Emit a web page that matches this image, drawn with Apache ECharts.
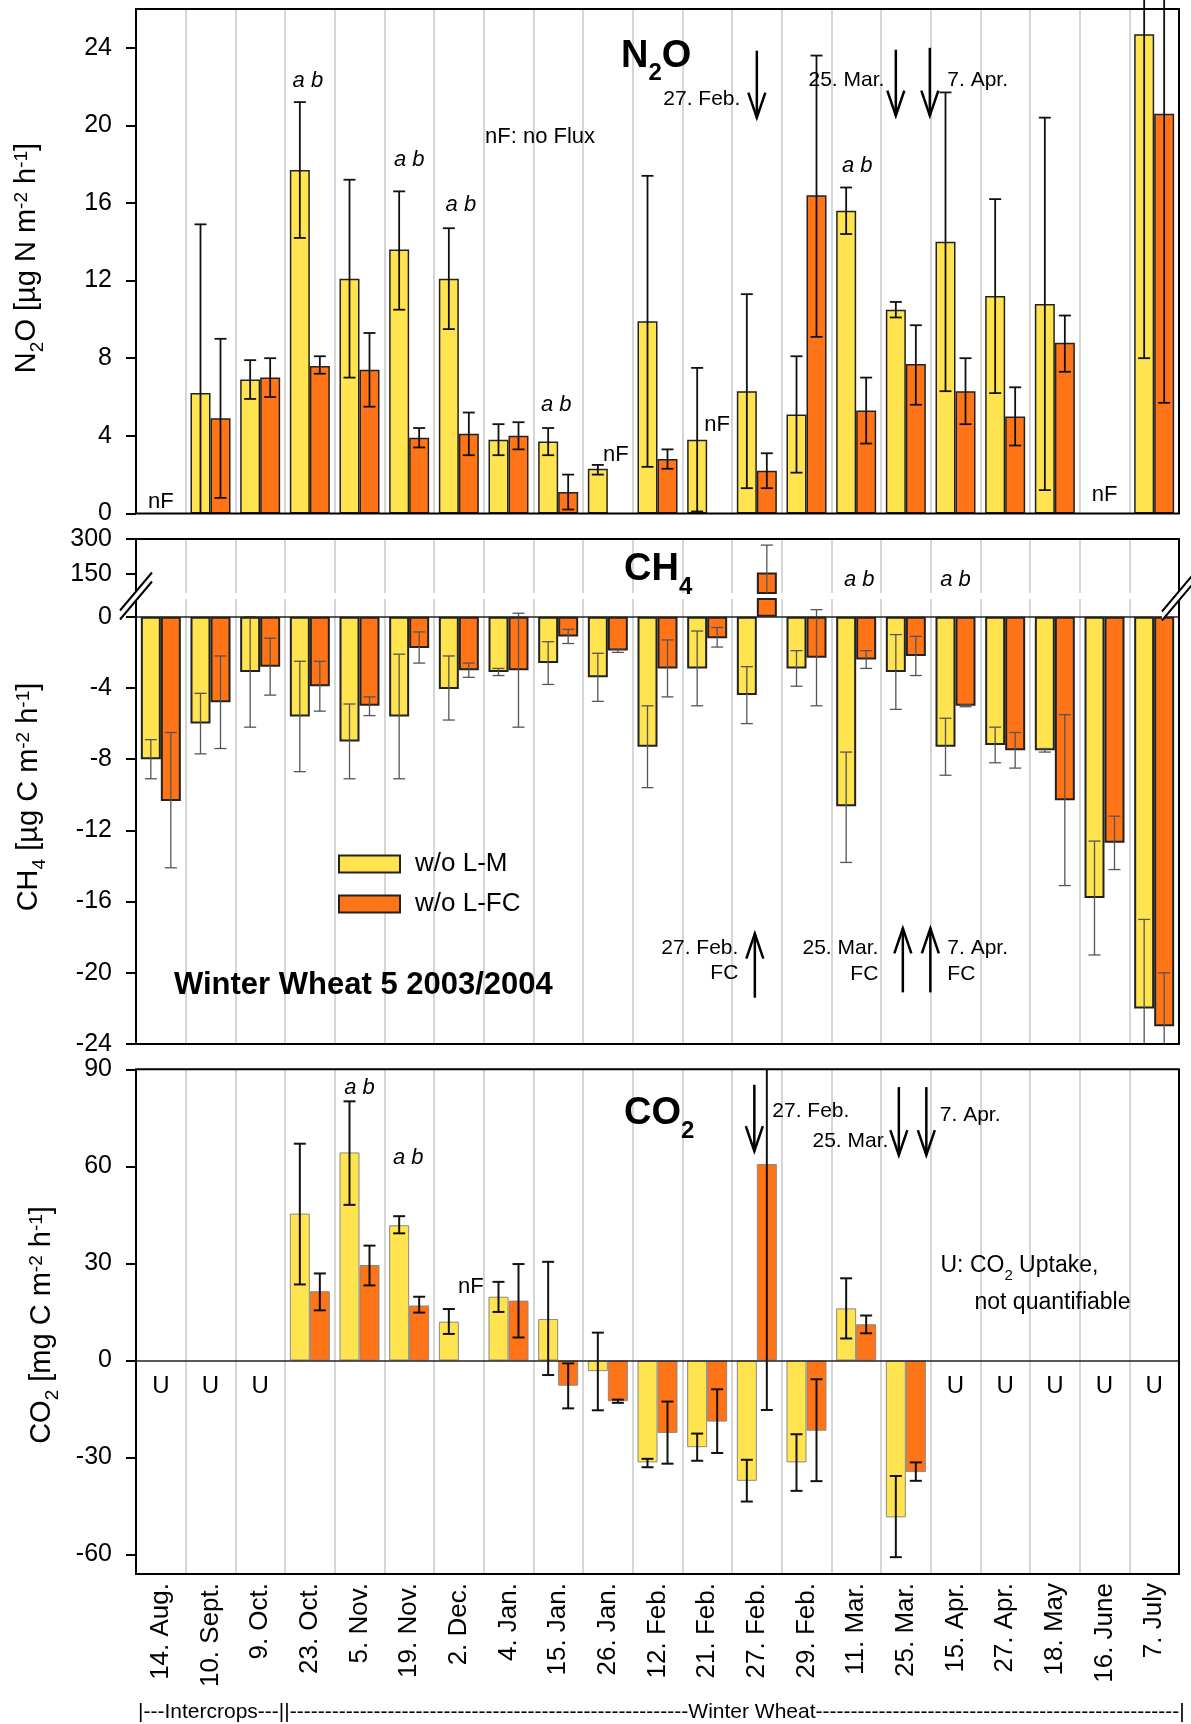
<!DOCTYPE html>
<html><head><meta charset="utf-8">
<script src="https://cdn.jsdelivr.net/npm/echarts@6/dist/echarts.min.js"></script>
<style>html,body{margin:0;padding:0;background:#fff}#c{width:1191px;height:1724px}</style>
</head><body><div id="c"></div>
<script>
// ---------------- data ----------------
const categories = ['14. Aug.', '10. Sept.', '9. Oct.', '23. Oct.', '5. Nov.', '19. Nov.', '2. Dec.', '4. Jan.', '15. Jan.', '26. Jan.', '12. Feb.', '21. Feb.', '27. Feb.', '29. Feb.', '11. Mar.', '25. Mar.', '15. Apr.', '27. Apr.', '18. May', '16. June', '7. July'];

// N2O [µg N m-2 h-1]
const n2oLM   = [null, 6.2, 6.9, 17.7, 12.1, 13.6, 12.1, 3.8, 3.7, 2.3, 9.9, 3.8, 6.3, 5.1, 15.6, 10.5, 14.0, 11.2, 10.8, null, 24.7];
const n2oLMhi = [null, 14.9, 7.9, 21.2, 17.2, 16.6, 14.7, 4.6, 4.4, 2.5, 17.4, 7.5, 11.3, 8.1, 16.8, 10.9, 21.7, 16.2, 20.4, null, 41.3];
const n2oLMlo = [null, -2.5, 5.9, 14.2, 7.0, 10.5, 9.5, 3.0, 3.0, 2.0, 2.4, 0.1, 1.3, 2.1, 14.4, 10.1, 6.3, 6.2, 1.2, null, 8.0];
const n2oFC   = [null, 4.9, 7.0, 7.6, 7.4, 3.9, 4.1, 4.0, 1.1, null, 2.8, null, 2.2, 16.4, 5.3, 7.7, 6.3, 5.0, 8.8, null, 20.6];
const n2oFChi = [null, 9.0, 8.0, 8.1, 9.3, 4.4, 5.2, 4.7, 2.0, null, 3.3, null, 3.1, 23.6, 7.0, 9.7, 8.0, 6.5, 10.2, null, 35.5];
const n2oFClo = [null, 0.8, 6.0, 7.2, 5.5, 3.4, 3.0, 3.3, 0.2, null, 2.3, null, 1.3, 9.1, 3.6, 5.6, 4.6, 3.5, 7.3, null, 5.7];

// CH4 [µg C m-2 h-1]
const ch4LM   = [-8.0, -6.0, -3.1, -5.6, -7.0, -5.6, -4.05, -3.1, -2.6, -3.4, -7.3, -2.9, -4.4, -2.9, -10.65, -3.1, -7.3, -7.2, -7.5, -15.8, -22.0];
const ch4LMhi = [-6.9, -4.3, 0.0, -2.5, -4.9, -2.1, -2.2, -2.9, -1.4, -2.05, -5.0, -0.8, -2.8, -1.9, -7.6, -1.0, -5.7, -6.2, -7.4, -12.6, -17.0];
const ch4LMlo = [-9.1, -7.7, -6.2, -8.7, -9.1, -9.1, -5.8, -3.3, -3.8, -4.75, -9.6, -5.0, -6.0, -3.9, -13.8, -5.2, -8.9, -8.2, -7.6, -19.0, -27.0];
const ch4FC   = [-10.35, -4.8, -2.8, -3.9, -5.0, -1.75, -3.0, -3.0, -1.1, -1.9, -2.9, -1.2, 157, -2.3, -2.4, -2.2, -5.0, -7.5, -10.3, -12.7, -23.0];
const ch4FChi = [-6.5, -2.2, -1.2, -2.5, -4.5, -0.85, -2.6, 0.2, -0.7, -1.8, -1.3, -0.6, 274, 0.4, -1.9, -1.1, -4.95, -6.5, -5.5, -11.2, -20.0];
const ch4FClo = [-14.1, -7.4, -4.4, -5.3, -5.55, -2.6, -3.4, -6.2, -1.5, -2.0, -4.5, -1.7, 40, -5.0, -2.9, -3.3, -5.05, -8.5, -15.1, -14.2, -26.0];

// CO2 [mg C m-2 h-1]
const co2LM   = [null, null, null, 45.4, 64.3, 41.8, 12.0, 19.7, 12.8, -3.3, -31.5, -26.8, -37.2, -31.5, 16.1, -48.5, null, null, null, null, null];
const co2LMhi = [null, null, null, 67.0, 80.1, 44.6, 15.9, 24.3, 30.5, 8.6, -30.4, -22.6, -30.7, -22.8, 25.4, -35.7, null, null, null, null, null];
const co2LMlo = [null, null, null, 23.5, 48.1, 39.3, 8.2, 15.0, -4.5, -15.4, -33.0, -31.0, -43.6, -40.3, 6.8, -60.8, null, null, null, null, null];
const co2FC   = [null, null, null, 21.4, 29.5, 17.0, null, 18.5, -7.8, -12.6, -22.4, -18.9, 60.7, -21.7, 11.2, -34.5, null, null, null, null, null];
const co2FChi = [null, null, null, 26.9, 35.5, 19.7, null, 29.8, -0.9, -12.1, -12.7, -8.9, 136, -5.8, 13.9, -31.5, null, null, null, null, null];
const co2FClo = [null, null, null, 15.5, 23.2, 14.8, null, 7.1, -14.8, -13.1, -31.9, -28.6, -15.3, -37.3, 8.4, -37.2, null, null, null, null, null];

// tick labels
const n2oTicks = [0, 4, 8, 12, 16, 20, 24];
const ch4UpperTicks = [150, 300];
const ch4LowerTicks = [-24, -20, -16, -12, -8, -4, 0];
const co2Ticks = [-60, -30, 0, 30, 60, 90];

const seriesNames = ['w/o L-M', 'w/o L-FC'];

// ---------------- styling / layout ----------------
const FONT = '"Liberation Sans", Arial, Helvetica, sans-serif';
const YELLOW = '#FFE34F', ORANGE = '#FF7417', GRIDC = '#C9C9C9';
const GRIDS = [
  {left: 136, top: 9, width: 1043, height: 504.4},
  {left: 136, top: 539, width: 1043, height: 54},
  {left: 136, top: 599, width: 1043, height: 445},
  {left: 136, top: 1069.3, width: 1043, height: 504.7}
];
const YR = [[0, 26], [70, 300], [-24, 1], [-66, 90]];
const TICKS = [n2oTicks, ch4UpperTicks, ch4LowerTicks, co2Ticks];

function xAx(i) {
  const last = i === 3;
  return {
    type: 'category', gridIndex: i, data: categories, boundaryGap: true,
    axisLine: {show: false}, axisTick: {show: false},
    axisLabel: {show: last, interval: 0, rotate: 90, fontSize: 26, color: '#000', margin: 9, fontFamily: FONT, padding: [14, 0, 0, 0]},
    splitLine: {show: true, interval: 0, lineStyle: {color: GRIDC, width: 1.5}}
  };
}
function yAx(i) {
  return {
    type: 'value', gridIndex: i, min: YR[i][0], max: YR[i][1],
    axisLine: {show: false},
    axisTick: {show: true, length: 10, lineStyle: {color: '#000', width: 2}, customValues: TICKS[i]},
    axisLabel: {customValues: TICKS[i], fontSize: 25, color: '#000', margin: 24, fontFamily: FONT},
    splitLine: {show: false}
  };
}
function bar(nameIdx, g, data, color, border, bw, extra) {
  return Object.assign({
    type: 'bar', name: seriesNames[nameIdx], xAxisIndex: g, yAxisIndex: g, data: data,
    barWidth: 20, barGap: '0%', clip: true, silent: true,
    itemStyle: {color: color, borderColor: border, borderWidth: bw},
    emphasis: {disabled: true}
  }, extra || {});
}
function errData(lo, hi) {
  const out = [];
  categories.forEach((c, i) => { if (lo[i] != null && hi[i] != null) out.push([i, lo[i], hi[i]]); });
  return out;
}
function errRender(offset, color, lw, clampTop, clampBot) {
  return function (params, api) {
    const i = api.value(0);
    const x = api.coord([i, 0])[0] + offset;
    let y1 = api.coord([i, api.value(2)])[1];
    let y2 = api.coord([i, api.value(1)])[1];
    const cs = params.coordSys;
    const top = cs.y, bot = cs.y + cs.height;
    if (y2 < top || y1 > bot) return null;
    let capHi = true, capLo = true;
    if (clampTop && y1 < top) { y1 = top; capHi = false; }
    if (clampBot && y2 > bot) { y2 = bot; capLo = false; }
    const st = {stroke: color, lineWidth: lw};
    const ch = [{type: 'line', shape: {x1: x, y1: y1, x2: x, y2: y2}, style: st}];
    if (capHi) ch.push({type: 'line', shape: {x1: x - 6, y1: y1, x2: x + 6, y2: y1}, style: st});
    if (capLo) ch.push({type: 'line', shape: {x1: x - 6, y1: y2, x2: x + 6, y2: y2}, style: st});
    return {type: 'group', children: ch};
  };
}
function err(g, lo, hi, offset, color, lw, cT, cB) {
  return {type: 'custom', xAxisIndex: g, yAxisIndex: g, data: errData(lo, hi), encode: {x: 0, y: [1, 2]},
    renderItem: errRender(offset, color, lw, cT, cB), z: 4, silent: true};
}
const zeroLine = {silent: true, symbol: ['none', 'none'], label: {show: false},
  lineStyle: {color: '#222', width: 1.5, type: 'solid'}, data: [{yAxis: 0}], animation: false};

const option = {
  animation: false,
  backgroundColor: '#fff',
  textStyle: {fontFamily: FONT},
  grid: GRIDS.map(g => Object.assign({containLabel: false, outerBoundsMode: 'none'}, g)),
  xAxis: [0, 1, 2, 3].map(xAx),
  yAxis: [0, 1, 2, 3].map(yAx),
  legend: {
    orient: 'vertical', left: 333, top: 846, itemWidth: 61, itemHeight: 17, itemGap: 14, icon: 'rect',
    data: seriesNames, selectedMode: false,
    textStyle: {fontSize: 26, color: '#000', fontFamily: FONT, lineHeight: 20, padding: [0, 0, 0, 10]}
  },
  series: [
    bar(0, 0, n2oLM, YELLOW, '#222', 1.5), bar(1, 0, n2oFC, ORANGE, '#222', 1.5),
    bar(0, 1, ch4LM, YELLOW, '#222', 2), bar(1, 1, ch4FC, ORANGE, '#222', 2),
    bar(0, 2, ch4LM, YELLOW, '#222', 2), bar(1, 2, ch4FC, ORANGE, '#222', 2, {markLine: zeroLine}),
    bar(0, 3, co2LM, YELLOW, '#888', 1), bar(1, 3, co2FC, ORANGE, '#888', 1, {markLine: zeroLine}),
    err(0, n2oLMlo, n2oLMhi, -10, '#111', 1.8, false, true),
    err(0, n2oFClo, n2oFChi, 10, '#111', 1.8, false, true),
    err(1, ch4LMlo, ch4LMhi, -10, '#555', 1.3, true, true),
    err(1, ch4FClo, ch4FChi, 10, '#555', 1.3, true, true),
    err(2, ch4LMlo, ch4LMhi, -10, '#555', 1.3, true, true),
    err(2, ch4FClo, ch4FChi, 10, '#555', 1.3, true, true),
    err(3, co2LMlo, co2LMhi, -10, '#111', 2, true, true),
    err(3, co2FClo, co2FChi, 10, '#111', 2, true, true)
  ]
};

const chart = echarts.init(document.getElementById('c'), null, {renderer: 'canvas'});
chart.setOption(option);

// ---------------- annotations ----------------
const P = (g, cat, v) => chart.convertToPixel({gridIndex: g}, [cat, v]);
const els = [];
function T(text, x, y, o) {
  els.push({type: 'text', x: x, y: y, z: 60, silent: true,
    style: Object.assign({text: text, fill: '#000', fontFamily: FONT, fontSize: 22,
      align: 'center', verticalAlign: 'middle', textAlign: 'center', textVerticalAlign: 'middle'}, o || {})});
}
function AT(g, cat, dx, v, text, o) { const p = P(g, cat, v); T(text, p[0] + dx, p[1], o); }
function AR(g, cat, dx, vTail, vTip) {
  const a = P(g, cat, vTail), b = P(g, cat, vTip);
  const x = a[0] + dx, y0 = a[1], y1 = b[1];
  const dir = y1 > y0 ? 1 : -1;
  els.push({type: 'line', z: 60, silent: true, shape: {x1: x, y1: y0, x2: x, y2: y1}, style: {stroke: '#000', lineWidth: 2.5}});
  els.push({type: 'polyline', z: 60, silent: true, shape: {points: [[x - 8.5, y1 - dir * 25], [x, y1], [x + 8.5, y1 - dir * 25]]},
    style: {stroke: '#000', lineWidth: 2.5, fill: null}});
}
const AB = {fontStyle: 'italic', fontSize: 22};
const SM = {fontSize: 21};
const L = {align: 'left', textAlign: 'left'}, R = {align: 'right', textAlign: 'right'};

// frames
function frame(x, y, w, h) {
  els.push({type: 'rect', z: 55, silent: true, shape: {x: x, y: y, width: w, height: h}, style: {fill: null, stroke: '#000', lineWidth: 2}});
}
frame(GRIDS[0].left, GRIDS[0].top, GRIDS[0].width, GRIDS[0].height);
frame(GRIDS[1].left, GRIDS[1].top, GRIDS[1].width, GRIDS[2].top + GRIDS[2].height - GRIDS[1].top);
frame(GRIDS[3].left, GRIDS[3].top, GRIDS[3].width, GRIDS[3].height);

// axis break marks
function brk(cx, cy) {
  const dx = 16, dy = 19, s = 4.5;
  els.push({type: 'polygon', z: 70, silent: true, shape: {points: [[cx - dx, cy + dy - s], [cx + dx, cy - dy - s], [cx + dx, cy - dy + s], [cx - dx, cy + dy + s]]}, style: {fill: '#fff', stroke: null}});
  els.push({type: 'line', z: 71, silent: true, shape: {x1: cx - dx, y1: cy + dy - s, x2: cx + dx, y2: cy - dy - s}, style: {stroke: '#000', lineWidth: 2}});
  els.push({type: 'line', z: 71, silent: true, shape: {x1: cx - dx, y1: cy + dy + s, x2: cx + dx, y2: cy - dy + s}, style: {stroke: '#000', lineWidth: 2}});
}
brk(136, 596);
brk(1178, 597);

// panel titles
function title(parts, x, y) {
  els.push({type: 'text', x: x, y: y, z: 60, silent: true, style: {
    text: '{b|' + parts[0] + '}{s|' + parts[1] + '}{b|' + (parts[2] || '') + '}',
    align: 'left', textAlign: 'left', verticalAlign: 'top', textVerticalAlign: 'top', fill: '#000',
    rich: {
      b: {fontSize: 38, fontWeight: 'bold', fontFamily: FONT, lineHeight: 38, verticalAlign: 'top'},
      s: {fontSize: 24, fontWeight: 'bold', fontFamily: FONT, lineHeight: 24, verticalAlign: 'top', padding: [24, 0, 0, 0]}
    }}});
}
title(['N', '2', 'O'], 621, 37.5);
title(['CH', '4', ''], 624, 551);
title(['CO', '2', ''], 624, 1095);

// y-axis names
function yname(text, x, y) {
  els.push({type: 'text', x: x, y: y, rotation: Math.PI / 2, z: 60, silent: true, style: {
    text: text, fill: '#000', align: 'center', textAlign: 'center', verticalAlign: 'middle', textVerticalAlign: 'middle',
    rich: {
      n: {fontSize: 29, fontFamily: FONT, lineHeight: 34, verticalAlign: 'top'},
      sup: {fontSize: 19, fontFamily: FONT, lineHeight: 19, verticalAlign: 'top'},
      sub: {fontSize: 19, fontFamily: FONT, lineHeight: 19, verticalAlign: 'top', padding: [16.5, 0, 0, 0]}
    }}});
}
yname('{n|N}{sub|2}{n|O [µg N m}{sup|-2}{n| h}{sup|-1}{n|]}', 29, 258);
yname('{n|CH}{sub|4}{n| [µg C m}{sup|-2}{n| h}{sup|-1}{n|]}', 31, 797);
yname('{n|CO}{sub|2}{n| [mg C m}{sup|-2}{n| h}{sup|-1}{n|]}', 44, 1325);

// N2O annotations
AT(0, 0, 0, 0.6, 'nF');
AT(0, 3, -2, 22.3, 'a b', AB);
AT(0, 5, 0, 18.2, 'a b', AB);
AT(0, 6, 2, 15.9, 'a b', AB);
AT(0, 8, -2, 5.6, 'a b', AB);
AT(0, 9, 8, 3.0, 'nF');
AT(0, 11, 10, 4.55, 'nF');
AT(0, 14, 1, 17.9, 'a b', AB);
AT(0, 19, 0, 0.95, 'nF');
AT(0, 7, -23.5, 19.4, 'nF: no Flux', L);
AR(0, 12, 0, 23.85, 20.4);
AR(0, 15, -10, 23.9, 20.5);
AR(0, 15, 24, 24.0, 20.5);
AT(0, 12, -16.5, 21.36, '27. Feb.', Object.assign({}, SM, R));
AT(0, 15, -21.5, 22.34, '25. Mar.', Object.assign({}, SM, R));
AT(0, 15, 41.5, 22.34, '7. Apr.', Object.assign({}, SM, L));

// CH4 annotations
AT(2, 14, 3, 2.07, 'a b', AB);
AT(2, 16, 0, 2.07, 'a b', AB);
AR(2, 12, -2, -21.4, -17.8);
AR(2, 15, -3, -21.1, -17.5);
AR(2, 15, 24.5, -21.1, -17.5);
AT(2, 12, -18.5, -18.6, '27. Feb.', Object.assign({}, SM, R));
AT(2, 12, -18.5, -20.0, 'FC', Object.assign({}, SM, R));
AT(2, 15, -27.5, -18.6, '25. Mar.', Object.assign({}, SM, R));
AT(2, 15, -27.5, -20.1, 'FC', Object.assign({}, SM, R));
AT(2, 15, 41.5, -18.6, '7. Apr.', Object.assign({}, SM, L));
AT(2, 15, 41.5, -20.1, 'FC', Object.assign({}, SM, L));
T('Winter Wheat 5 2003/2004', 174, 985, {fontSize: 31, fontWeight: 'bold', align: 'left', textAlign: 'left'});

// CO2 annotations
AT(3, 4, 0, 84.2, 'a b', AB);
AT(3, 5, -1, 62.7, 'a b', AB);
AT(3, 6, 12, 22.7, 'nF');
[0, 1, 2, 16, 17, 18, 19, 20].forEach(i => AT(3, i, 0, -7.9, 'U', {fontSize: 24}));
(function () {
  const p = P(3, 16, 28.9);
  els.push({type: 'text', x: p[0] - 15, y: p[1], z: 60, silent: true, style: {
    text: '{n|U: CO}{s|2}{n| Uptake,}', align: 'left', textAlign: 'left', verticalAlign: 'middle', textVerticalAlign: 'middle', fill: '#000',
    rich: {n: {fontSize: 23, fontFamily: FONT, lineHeight: 26, verticalAlign: 'top'},
           s: {fontSize: 15, fontFamily: FONT, lineHeight: 15, verticalAlign: 'top', padding: [14, 0, 0, 0]}}}});
})();
AT(3, 16, 19, 17.8, 'not quantifiable', {fontSize: 23, align: 'left', textAlign: 'left'});
AR(3, 12, -2.5, 85.2, 64.7);
AR(3, 15, -7, 84.5, 63.5);
AR(3, 15, 20.5, 84.5, 63.5);
AT(3, 12, 15.5, 77.0, '27. Feb.', Object.assign({}, SM, L));
AT(3, 15, -17.5, 67.9, '25. Mar.', Object.assign({}, SM, R));
AT(3, 15, 34, 75.7, '7. Apr.', Object.assign({}, SM, L));

// bottom period line
(function () {
  const ctx = document.createElement('canvas').getContext('2d');
  ctx.font = '21px "Liberation Sans"';
  const w = s => ctx.measureText(s).width;
  const dw = w('-');
  const d = px => '-'.repeat(Math.max(1, Math.round(px / dw)));
  const x0 = 138, x1 = 288, x3 = 1183, ww = 687;
  const icW = w('Intercrops'), bw = w('|');
  const side = (x1 - x0 - 2 * bw - icW) / 2;
  const seg1 = '|' + d(side) + 'Intercrops' + d(side) + '|';
  const x2 = x0 + w(seg1);
  const left2 = ww - x2 - bw;
  const right2 = x3 - (ww + w('Winter Wheat')) - bw;
  const seg2 = '|' + d(left2) + 'Winter Wheat' + d(right2) + '|';
  T(seg1 + seg2, x0, 1712, {fontSize: 21, align: 'left', textAlign: 'left'});
})();

chart.setOption({graphic: {elements: els}});
</script></body></html>
